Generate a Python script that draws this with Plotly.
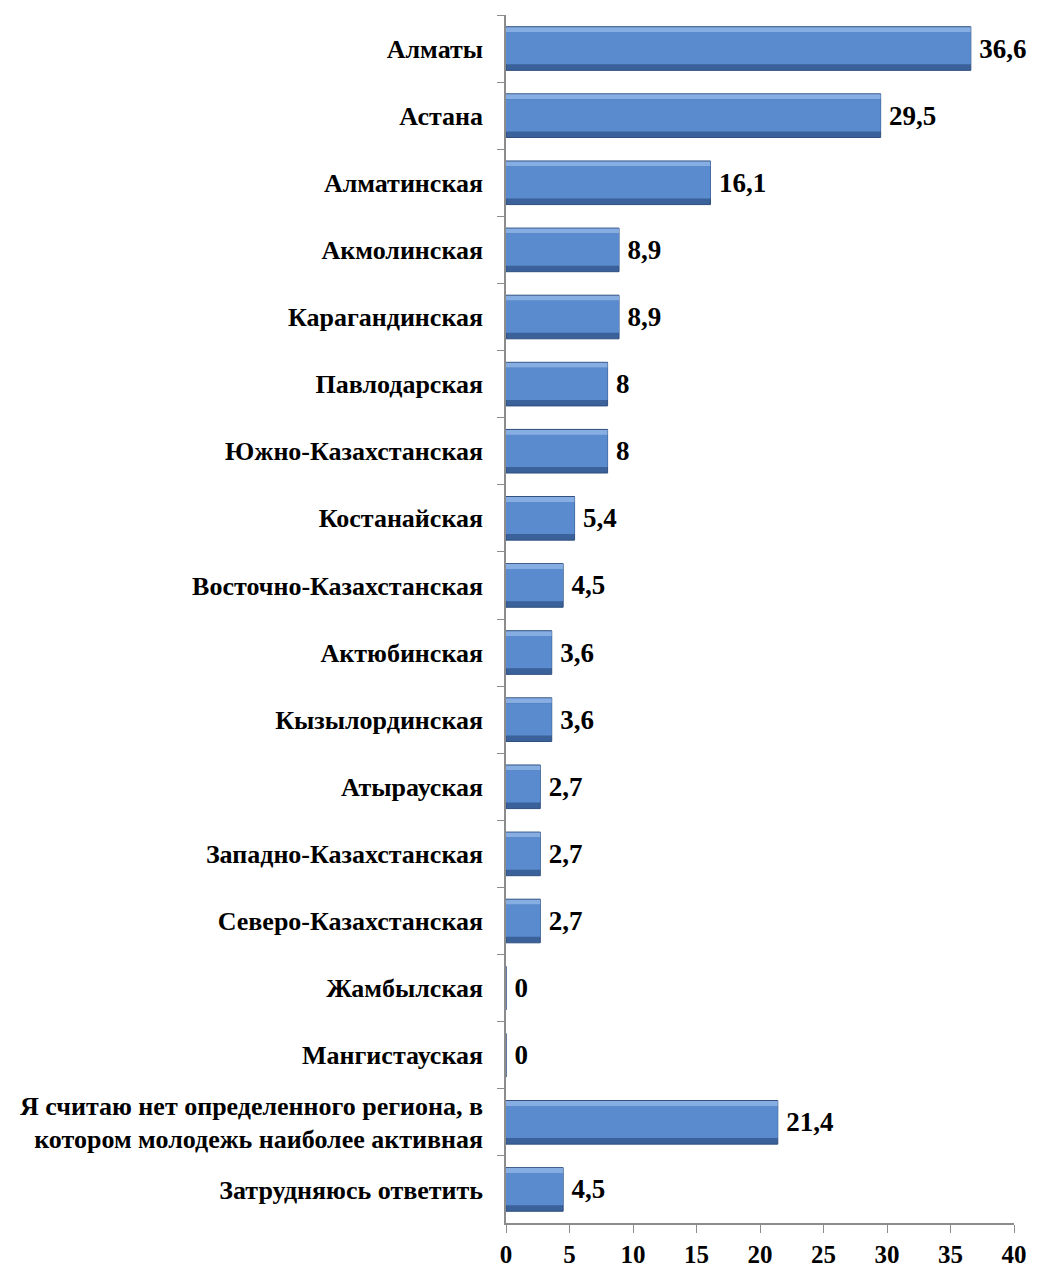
import plotly.graph_objects as go

categories = [
    "Алматы", "Астана", "Алматинская", "Акмолинская", "Карагандинская",
    "Павлодарская", "Южно-Казахстанская", "Костанайская",
    "Восточно-Казахстанская", "Актюбинская", "Кызылординская", "Атырауская",
    "Западно-Казахстанская", "Северо-Казахстанская", "Жамбылская",
    "Мангистауская",
    "Я считаю нет определенного региона, в<br>котором молодежь наиболее активная",
    "Затрудняюсь ответить",
]
values = [36.6, 29.5, 16.1, 8.9, 8.9, 8, 8, 5.4, 4.5, 3.6, 3.6, 2.7, 2.7, 2.7, 0, 0, 21.4, 4.5]
x_ticks = [0, 5, 10, 15, 20, 25, 30, 35, 40]

labels = ["\u2009" + ("%g" % v).replace(".", ",") for v in values]

font_family = "Liberation Serif"

fig = go.Figure()
# base bar (dark lower bevel + outline), carries the value labels
fig.add_trace(go.Bar(
    y=categories, x=values, orientation="h", width=0.65, offset=-0.325,
    marker=dict(color="#3A6199", line=dict(color="#2F4F7F", width=1)),
    text=labels, textposition="outside", cliponaxis=False,
    textfont=dict(family=font_family, size=27, color="#000000", weight="bold"),
    hoverinfo="skip",
))
# light upper bevel
fig.add_trace(go.Bar(
    y=categories, x=values, orientation="h", width=0.075, offset=-0.318,
    marker=dict(color="#86AEE3", line=dict(width=0)),
    hoverinfo="skip",
))
# bar face
fig.add_trace(go.Bar(
    y=categories, x=values, orientation="h", width=0.48, offset=-0.245,
    marker=dict(color="#5A8BCF", line=dict(width=0)),
))

fig.update_layout(
    width=1037, height=1275,
    margin=dict(l=498, r=31, t=7, b=60),
    paper_bgcolor="white", plot_bgcolor="white",
    showlegend=False, barmode="overlay",
    font=dict(family=font_family, color="#000000"),
)
fig.update_yaxes(
    autorange="reversed", type="category", automargin=False,
    showline=True, linecolor="#8C8C8C", linewidth=1.5,
    ticks="outside", ticklen=7, tickcolor="#8C8C8C", tickson="boundaries",
    ticklabelstandoff=16,
    tickfont=dict(family=font_family, size=26, color="#000000", weight="bold"),
    showgrid=False,
)
fig.update_xaxes(
    range=[0, 40], tickvals=x_ticks, automargin=False,
    showline=True, linecolor="#8C8C8C", linewidth=1.5,
    ticks="outside", ticklen=8, tickcolor="#8C8C8C",
    tickfont=dict(family=font_family, size=25, color="#000000", weight="bold"),
    ticklabelstandoff=0,
    showgrid=False, zeroline=False,
)

fig.write_html("out.html")
